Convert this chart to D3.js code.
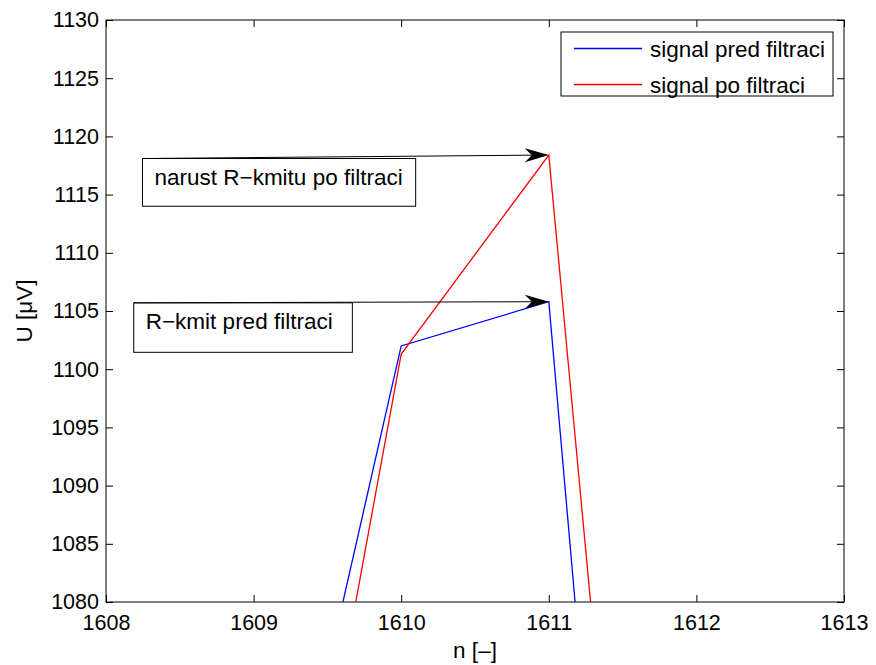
<!DOCTYPE html>
<html>
<head>
<meta charset="utf-8">
<script src="https://cdn.jsdelivr.net/npm/d3@7"></script>
<style>
body { margin: 0; background: #fff; }
text { font-family: "Liberation Sans", Arial, Helvetica, sans-serif; fill: #000; }
</style>
</head>
<body>
<div id="chart"></div>
<script>
var w = 876
var h = 665
var margin = {top: 20, right: 32, bottom: 63, left: 106}
var width = w - margin.left - margin.right
var height = h - margin.top - margin.bottom

// data
var samples = [1609, 1610, 1611, 1612]
var pred = [1046.3, 1102.0, 1105.8, 960.8]   // signal pred filtraci
var po = [1032.1, 1101.3, 1118.4, 982.7]     // signal po filtraci

var xTicks = [1608, 1609, 1610, 1611, 1612, 1613]
var yTicks = [1080, 1085, 1090, 1095, 1100, 1105, 1110, 1115, 1120, 1125, 1130]

var seriesNames = ["signal pred filtraci", "signal po filtraci"]
var seriesColors = ["#0000ff", "#ff0000"]

// text arrows: tail (box corner) and head in data units
var notes = [
  {text: "narust R\u2212kmitu po filtraci", tail: [1608.247, 1118.1], head: [1611, 1118.4], x2: 1610.098, y2: 1114.0},
  {text: "R\u2212kmit pred filtraci", tail: [1608.188, 1105.7], head: [1611, 1105.8], x2: 1609.669, y2: 1101.45}
]

var xScale = d3.scaleLinear().domain([1608, 1613]).range([0, width])
var yScale = d3.scaleLinear().domain([1080, 1130]).range([height, 0])

var svg = d3.select("#chart").append("svg")
  .attr("width", w)
  .attr("height", h)

svg.append("defs").append("clipPath")
  .attr("id", "clip")
  .append("rect")
  .attr("width", width)
  .attr("height", height)

var g = svg.append("g")
  .attr("transform", "translate(" + margin.left + "," + margin.top + ")")

var tickSize = 21.5
var textSize = 22.5

// axes, MATLAB style: ticks inward on all four sides
var xAxis = d3.axisBottom(xScale).tickValues(xTicks).tickSize(-7).tickPadding(13).tickFormat(d3.format("d"))
var xAxisTop = d3.axisTop(xScale).tickValues(xTicks).tickSize(-7).tickFormat("")
var yAxis = d3.axisLeft(yScale).tickValues(yTicks).tickSize(-7).tickPadding(7).tickFormat(d3.format("d"))
var yAxisRight = d3.axisRight(yScale).tickValues(yTicks).tickSize(-7).tickFormat("")

function styleAxis(sel) {
  sel.select(".domain").remove()
  sel.selectAll("line").attr("stroke", "#000")
  sel.selectAll("text").style("font-size", tickSize + "px").attr("fill", "#000")
}

g.append("g").attr("transform", "translate(0," + height + ")").call(xAxis).call(styleAxis)
g.append("g").call(xAxisTop).call(styleAxis)
g.append("g").call(yAxis).call(styleAxis)
g.append("g").attr("transform", "translate(" + width + ",0)").call(yAxisRight).call(styleAxis)

g.append("rect")
  .attr("width", width)
  .attr("height", height)
  .attr("fill", "none")
  .attr("stroke", "#000")
  .attr("stroke-width", 1)

// signals
var line = d3.line()
  .x(d => xScale(d[0]))
  .y(d => yScale(d[1]))

var series = [pred, po]
g.append("g").attr("clip-path", "url(#clip)")
  .selectAll("path")
  .data(series)
  .join("path")
  .attr("d", vals => line(samples.map((s, i) => [s, vals[i]])))
  .attr("fill", "none")
  .attr("stroke", (d, i) => seriesColors[i])
  .attr("stroke-width", 1.3)

// text arrows
var ng = g.append("g")
notes.forEach(function(n) {
  var x0 = xScale(n.tail[0]), y0 = yScale(n.tail[1])
  var x1 = xScale(n.head[0]), y1 = yScale(n.head[1])
  ng.append("rect")
    .attr("x", x0)
    .attr("y", y0)
    .attr("width", xScale(n.x2) - x0)
    .attr("height", yScale(n.y2) - y0)
    .attr("fill", "none")
    .attr("stroke", "#000")
  var ang = Math.atan2(y1 - y0, x1 - x0)
  var L = 24, W = 7, notch = 17
  ng.append("line")
    .attr("x1", x0).attr("y1", y0)
    .attr("x2", x1 - notch * Math.cos(ang)).attr("y2", y1 - notch * Math.sin(ang))
    .attr("stroke", "#000")
  ng.append("path")
    .attr("d", "M0,0L" + (-L) + "," + (-W) + "L" + (-notch) + ",0L" + (-L) + "," + W + "Z")
    .attr("transform", "translate(" + x1 + "," + y1 + ") rotate(" + (ang * 180 / Math.PI) + ")")
    .attr("fill", "#000")
  ng.append("text")
    .attr("x", x0 + 12)
    .attr("y", y0 + 26)
    .style("font-size", textSize + "px")
    .text(n.text)
})

// legend
var lg = g.append("g").attr("transform", "translate(" + (width - 283) + ",12)")
lg.append("rect")
  .attr("width", 272)
  .attr("height", 64)
  .attr("fill", "#fff")
  .attr("stroke", "#000")
seriesNames.forEach(function(name, i) {
  var yy = 16.5 + i * 36
  lg.append("line")
    .attr("x1", 13).attr("x2", 81)
    .attr("y1", yy).attr("y2", yy)
    .attr("stroke", seriesColors[i])
    .attr("stroke-width", 1.3)
  lg.append("text")
    .attr("x", 89)
    .attr("y", yy + 8)
    .style("font-size", textSize + "px")
    .text(name)
})

// axis labels
svg.append("text")
  .attr("x", margin.left + width / 2)
  .attr("y", 658)
  .attr("text-anchor", "middle")
  .style("font-size", textSize + "px")
  .text("n [\u2013]")

svg.append("text")
  .attr("transform", "translate(32," + (margin.top + height / 2) + ") rotate(-90)")
  .attr("text-anchor", "middle")
  .style("font-size", textSize + "px")
  .text("U [\u03bcV]")
</script>
</body>
</html>
